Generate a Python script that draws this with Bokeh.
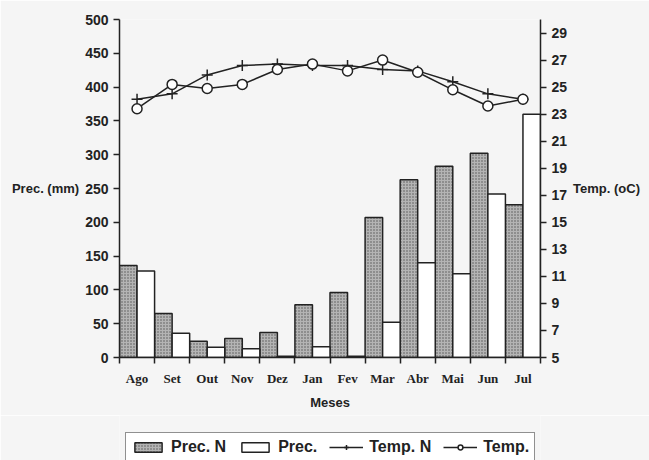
from bokeh.plotting import figure
from bokeh.models import (Range1d, LinearAxis, FixedTicker, Legend, LegendItem)
from bokeh.layouts import column
from bokeh.embed import file_html
from bokeh.resources import INLINE

months = ["Ago", "Set", "Out", "Nov", "Dez", "Jan", "Fev", "Mar", "Abr", "Mai", "Jun", "Jul"]
prec_n = [136, 65, 24, 28, 37, 78, 96, 207, 263, 283, 302, 226]
prec = [128, 36, 15, 13, 2, 16, 2, 52, 140, 124, 242, 360]
temp_n = [24.1, 24.5, 25.9, 26.6, 26.7, 26.6, 26.6, 26.3, 26.2, 25.4, 24.5, 24.1]
temp = [23.4, 25.2, 24.9, 25.2, 26.3, 26.7, 26.2, 27.0, 26.1, 24.8, 23.6, 24.1]
prec_ticks = list(range(0, 501, 50))
temp_ticks = list(range(5, 30, 2))

idx = list(range(len(months)))
x_left = [i + 0.25 for i in idx]
x_right = [i + 0.75 for i in idx]
x_mid = [i + 0.5 for i in idx]

BG = "#f5f5f5"
INK = "#222222"
SANS = "Liberation Sans"
SERIF = "Liberation Serif"

BAR_N = dict(fill_color="#b4b4b4", hatch_pattern="dot", hatch_color="#555555",
             hatch_scale=3, hatch_weight=1, line_color=INK, line_width=1.5)
BAR_P = dict(fill_color="white", line_color=INK, line_width=1.5)
LINE = dict(line_color=INK, line_width=1.5)
CROSS = dict(marker="cross", size=11, line_color=INK, line_width=1.5)
CIRC = dict(marker="circle", size=10, fill_color="white", line_color=INK, line_width=1.5)

p = figure(width=649, height=415, output_backend="svg", toolbar_location=None,
           x_range=Range1d(0, len(months)), y_range=Range1d(0, 500),
           min_border_left=119, min_border_right=109, min_border_top=19,
           min_border_bottom=58, background_fill_color=BG, border_fill_color=BG,
           outline_line_color=None)
p.extra_y_ranges = {"temp": Range1d(5, 30)}
p.grid.visible = False

# x axis
xa = p.xaxis[0]
xa.ticker = FixedTicker(ticks=x_mid, minor_ticks=list(range(0, len(months) + 1)))
xa.major_label_overrides = {x: m for x, m in zip(x_mid, months)}
xa.major_tick_out = 0
xa.major_tick_in = 0
xa.minor_tick_out = 6
xa.minor_tick_in = 0
xa.minor_tick_line_color = INK
xa.minor_tick_line_width = 1.5
xa.axis_line_width = 1.5
xa.axis_line_color = INK
xa.major_label_text_font = SERIF
xa.major_label_text_font_style = "bold"
xa.major_label_text_font_size = "13px"
xa.major_label_text_color = INK
xa.major_label_standoff = 7
xa.axis_label = "Meses"
xa.axis_label_text_font = SANS
xa.axis_label_text_font_style = "bold"
xa.axis_label_text_font_size = "13px"
xa.axis_label_text_color = INK
xa.axis_label_standoff = 6

# left axis
ya = p.yaxis[0]
ya.ticker = FixedTicker(ticks=prec_ticks)

# right axis
ra = LinearAxis(y_range_name="temp", ticker=FixedTicker(ticks=temp_ticks))
p.add_layout(ra, "right")

for ax, title in ((ya, "Prec. (mm)"), (ra, "Temp. (oC)")):
    ax.minor_tick_line_color = None
    ax.major_tick_out = 6
    ax.major_tick_in = 0
    ax.major_tick_line_width = 1.5
    ax.major_tick_line_color = INK
    ax.axis_line_width = 1.5
    ax.axis_line_color = INK
    ax.major_label_text_font = SANS
    ax.major_label_text_font_style = "bold"
    ax.major_label_text_font_size = "14px"
    ax.major_label_text_color = INK
    ax.major_label_standoff = 5
    ax.axis_label = title
    ax.axis_label_text_font = SANS
    ax.axis_label_text_font_style = "bold"
    ax.axis_label_text_font_size = "13px"
    ax.axis_label_text_color = INK
    ax.axis_label_standoff = 3
    ax.axis_label_orientation = "horizontal"

# bars
p.vbar(x=x_left, top=prec_n, width=0.5, bottom=0, **BAR_N)
p.vbar(x=x_right, top=prec, width=0.5, bottom=0, **BAR_P)

# temperature lines
p.line(x_mid, temp_n, y_range_name="temp", **LINE)
p.scatter(x_mid, temp_n, y_range_name="temp", **CROSS)
p.line(x_mid, temp, y_range_name="temp", **LINE)
p.scatter(x_mid, temp, y_range_name="temp", **CIRC)

# legend strip (separate figure; its renderers are hidden proxies of the same series)
q = figure(width=649, height=45, output_backend="svg", toolbar_location=None,
           x_range=Range1d(0, len(months)), y_range=Range1d(0, 500),
           x_axis_location=None, y_axis_location=None,
           min_border_left=119, min_border_right=109, min_border_top=0, min_border_bottom=0,
           background_fill_color=BG, border_fill_color=BG, outline_line_color=None)
q.grid.visible = False
k1 = q.vbar(x=x_left, top=prec_n, width=0.5, bottom=0, visible=False, **BAR_N)
k2 = q.vbar(x=x_right, top=prec, width=0.5, bottom=0, visible=False, **BAR_P)
k3 = q.line(x_mid, temp_n, visible=False, **LINE)
k4 = q.scatter(x_mid, temp_n, visible=False, **CROSS)
k5 = q.line(x_mid, temp, visible=False, **LINE)
k6 = q.scatter(x_mid, temp, visible=False, **CIRC)

legend = Legend(items=[
    LegendItem(label="Prec. N", renderers=[k1]),
    LegendItem(label="Prec.", renderers=[k2]),
    LegendItem(label="Temp. N", renderers=[k3, k4]),
    LegendItem(label="Temp.", renderers=[k5, k6]),
], orientation="horizontal", location=(6, -2), glyph_width=34, glyph_height=12,
    label_standoff=6, spacing=12, padding=5, margin=0,
    label_text_font=SANS, label_text_font_style="bold", label_text_font_size="16px",
    label_text_color=INK, border_line_color=INK, border_line_width=1.5,
    background_fill_color="white", background_fill_alpha=1.0,
    inactive_fill_alpha=0.0)
q.add_layout(legend, "center")

open("out.html", "w").write(file_html(column(p, q, spacing=0), INLINE))
